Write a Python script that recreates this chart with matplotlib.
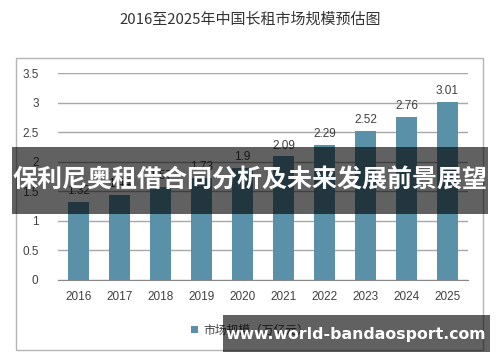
import matplotlib
matplotlib.use("Agg")
import matplotlib.pyplot as plt
from matplotlib.patches import Rectangle

plt.rcParams['font.family'] = ['Noto Sans CJK SC', 'DejaVu Sans']

years = ['2016', '2017', '2018', '2019', '2020', '2021', '2022', '2023', '2024', '2025']
values = [1.32, 1.44, 1.57, 1.73, 1.9, 2.09, 2.29, 2.52, 2.76, 3.01]
labels = ['1.32', '1.44', '1.57', '1.73', '1.9', '2.09', '2.29', '2.52', '2.76', '3.01']
yticks = [0, 0.5, 1, 1.5, 2, 2.5, 3, 3.5]
ytick_labels = ['0', '0.5', '1', '1.5', '2', '2.5', '3', '3.5']
title = '2016至2025年中国长租市场规模预估图'
legend_label = '市场规模（万亿元）'
banner = '保利尼奥租借合同分析及未来发展前景展望'
site = 'www.world-bandaosport.com'

bar_color = '#5b90a9'
text_color = '#404040'
num_font = 'Liberation Sans'

fig = plt.figure(figsize=(5, 3.62), dpi=100)
fig.patch.set_facecolor('white')

# outer chart border
fig.patches.append(Rectangle((16/500, 1-350/362), (483-16)/500, (350-58)/362,
                             transform=fig.transFigure, fill=False,
                             edgecolor='#b5b5b5', linewidth=1.0, zorder=0))

fig.text(0.5, 1-20/362, title, ha='center', va='center', fontsize=10.8, color='#333333')

ax = fig.add_axes([58/500, 1-280/362, 410/500, (280-73)/362])
x = range(len(years))
bars = ax.bar(x, values, width=0.49, color=bar_color, zorder=2, label=legend_label)
ax.set_xlim(-0.5, len(years)-0.5)
ax.set_ylim(0, 3.5)
ax.set_yticks(yticks)
ax.set_yticklabels(ytick_labels)
ax.set_xticks(list(x))
ax.set_xticklabels(years)
ax.tick_params(axis='both', length=0, labelsize=8.5, colors=text_color, pad=8)
ax.tick_params(axis='y', pad=14)
for t in ax.get_yticklabels() + ax.get_xticklabels():
    t.set_family(num_font)
ax.yaxis.grid(True, color='#a8a8a8', linewidth=1.0, zorder=0)
ax.set_axisbelow(True)
for s in ['left', 'right', 'top']:
    ax.spines[s].set_visible(False)
ax.spines['bottom'].set_color('#888888')
ax.set_facecolor('none')

for xi, v, lab in zip(x, values, labels):
    ax.text(xi, v + 0.08, lab, ha='center', va='bottom', fontsize=8.5,
            color=text_color, family=num_font)

fig.legend(handles=[bars], labels=[legend_label], loc='center',
           bbox_to_anchor=(0.5, 1-330/362), frameon=False, fontsize=8.5,
           handlelength=0.6, handleheight=0.6, handletextpad=0.4,
           labelcolor=text_color)

# watermark banners
fig.patches.append(Rectangle((12/500, 1-214/362), (488-12)/500, (214-147)/362,
                             transform=fig.transFigure, facecolor='black',
                             alpha=0.62, edgecolor='none', zorder=10))
fig.text(0.5, 1-181/362, banner, ha='center', va='center', fontsize=18,
         fontweight='bold', color='white', zorder=11)

fig.patches.append(Rectangle((223/500, 1-352/362), (490-223)/500, (352-315)/362,
                             transform=fig.transFigure, facecolor='black',
                             alpha=0.62, edgecolor='none', zorder=10))
fig.text(356/500, 1-334/362, site, ha='center', va='center', fontsize=11.3,
         fontweight='bold', color='white', family='DejaVu Sans', zorder=11)

fig.savefig('out.png', dpi=100)
